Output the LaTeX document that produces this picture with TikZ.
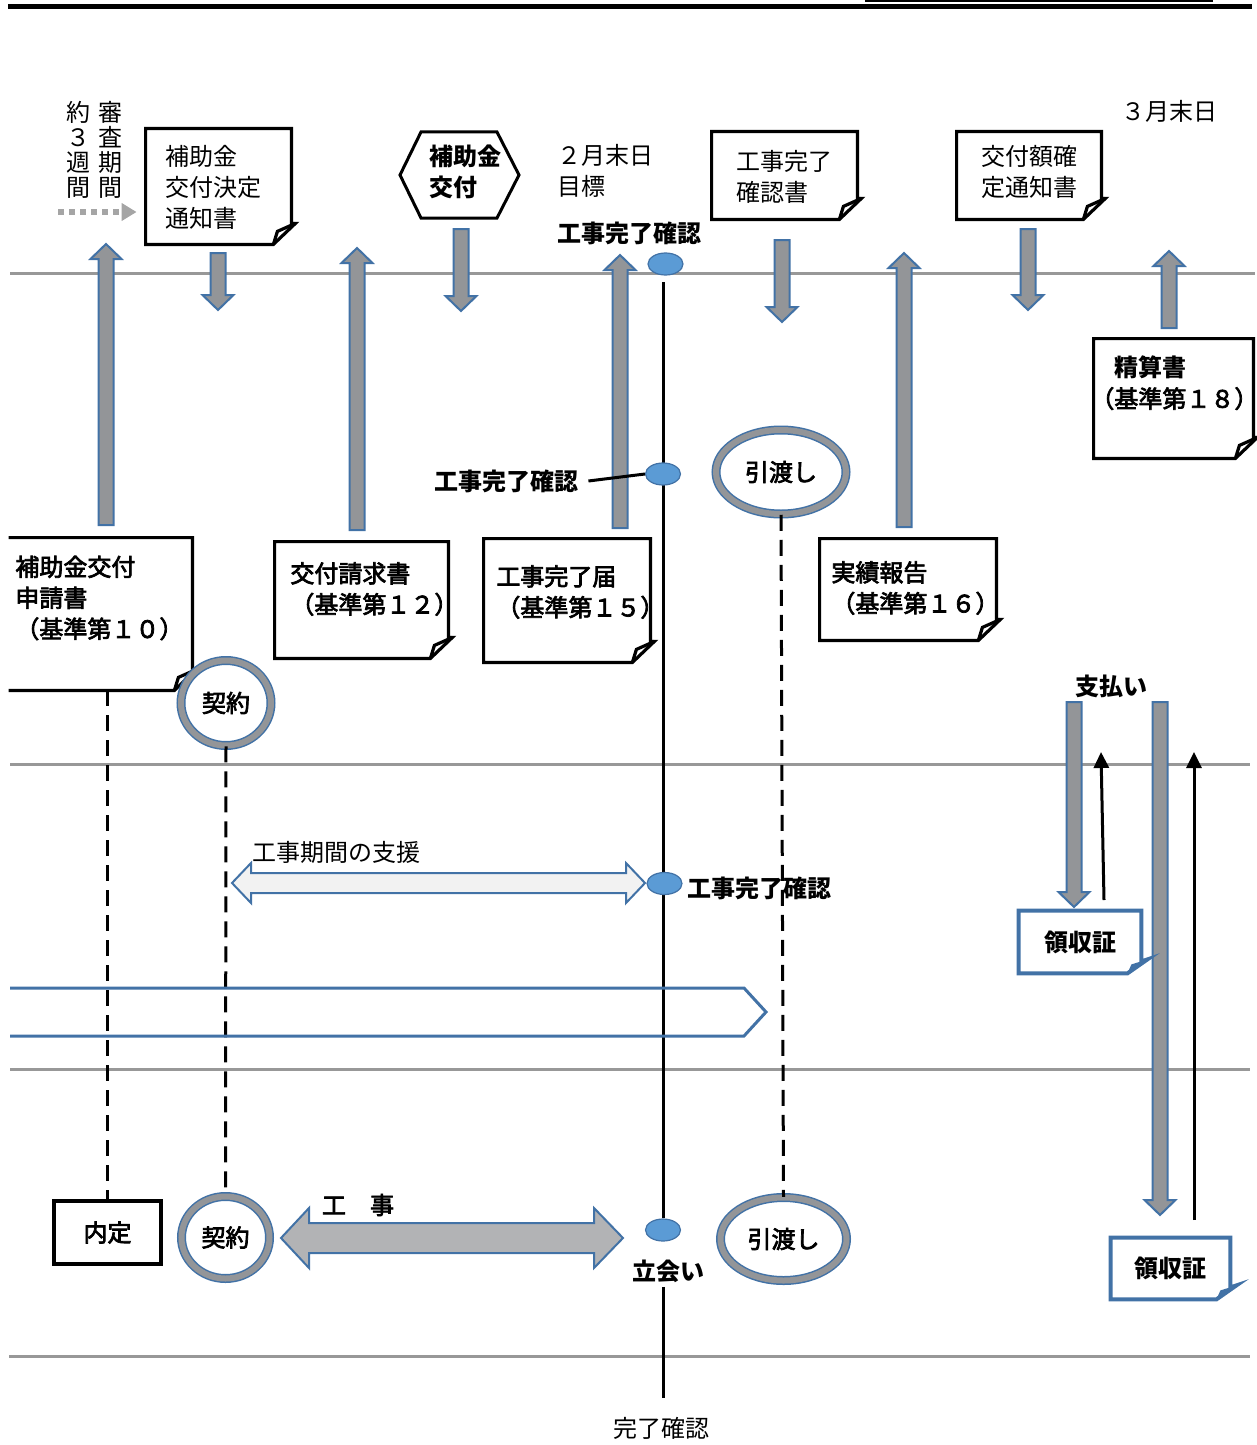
\documentclass[tikz,border=0pt]{standalone}
\usepackage{fontspec}
\setmainfont{Noto Sans CJK JP}
\newfontfamily\medfont{Noto Sans CJK JP}[FakeBold=3]
\usetikzlibrary{shapes.geometric,arrows.meta,calc}

\definecolor{railgray}{RGB}{152,152,152}
\definecolor{shaftgray}{RGB}{147,149,152}
\definecolor{edgeblue}{RGB}{66,114,166}
\definecolor{dotblue}{RGB}{91,155,213}
\definecolor{worksgray}{RGB}{178,179,181}
\definecolor{supportfill}{RGB}{242,242,242}
\definecolor{waitgray}{RGB}{165,165,165}

\tikzset{
  txt/.style={font=\fontsize{12}{15.5}\selectfont, inner sep=0pt, align=left},
  btxt/.style={txt, font=\fontsize{12}{15.5}\selectfont\bfseries},
  mtxt/.style={txt, font=\fontsize{12}{15.5}\selectfont\medfont},
  coltxt/.style={font=\fontsize{12}{12.4}\selectfont, inner sep=0pt, align=center},
  docnote/.style={draw=none, inner sep=0pt},
  docline/.style={draw=black, line width=1.6pt, line join=miter},
  receipt/.style={btxt, inner sep=0pt},
  receiptline/.style={draw=edgeblue, line width=2pt, line join=miter},
  rail/.style={draw=railgray, line width=1.5pt},
  shaft/.style={draw=edgeblue, fill=shaftgray, line width=1pt, line join=miter},
  milestone/.style={ellipse, draw=edgeblue, fill=dotblue, line width=0.6pt, minimum width=17.5pt, minimum height=11pt, inner sep=0pt},
  ring/.style={ellipse, draw=edgeblue, double=shaftgray, double distance=3pt, line width=0.75pt, fill=white, mtxt, inner sep=0pt},
  dashline/.style={draw=black, line width=1.5pt, dash pattern=on 8pt off 4.5pt},
  mainline/.style={draw=black, line width=1.5pt},
  thinarrow/.style={draw=black, line width=1.5pt, -{Triangle[length=8pt,width=7.5pt]}},
  waitarrow/.style={draw=waitgray, line width=3pt, dash pattern=on 3pt off 2.5pt, -{Triangle[length=7.5pt,width=8.5pt]}},
  hexline/.style={draw=black, line width=1.5pt, line join=miter},
  bandline/.style={draw=edgeblue, line width=1.5pt, line join=miter},
}

% block arrow: x, tail y, tip y
\newcommand{\vshaft}[3]{%
  \pgfmathsetmacro{\heady}{#3>#2 ? #3-15 : #3+15}
  \draw[shaft] ({#1-7.5},#2) -- ({#1-7.5},\heady) -- ({#1-15.5},\heady) -- (#1,#3)
    -- ({#1+15.5},\heady) -- ({#1+7.5},\heady) -- ({#1+7.5},#2) -- cycle;
}
% note with a folded corner
\newcommand{\docoutline}[1]{%
  \draw[docline] (#1.north west) -- (#1.north east) -- ($(#1.south east)+(0,-21)$)
    -- ($(#1.south east)+(4,-21)$) -- ($(#1.south east)+(-18,0)$) -- (#1.south west) -- cycle;
  \draw[docline] ($(#1.south east)+(-18,0)$) -- ($(#1.south east)+(-14,-13)$) -- ($(#1.south east)+(4,-21)$);
}
\newcommand{\receiptoutline}[1]{%
  \draw[receiptline] (#1.north west) -- (#1.north east) -- ($(#1.south east)+(0,-12)$)
    -- ($(#1.south east)+(6,-14)$) -- ($(#1.south east)+(-14,0)$) -- (#1.south west) -- cycle;
  \fill[edgeblue] ($(#1.south east)+(-14,0)$) -- ($(#1.south east)+(-10,-9)$) -- ($(#1.south east)+(6,-14)$) -- cycle;
}

\begin{document}
\begin{tikzpicture}[x=0.5pt, y=-0.5pt]
\useasboundingbox (0,0) rectangle (1257,1445);

% frame lines
\draw[line width=2.5pt] (8,7) -- (1252,7);
\draw[line width=1.5pt] (865,0.5) -- (1213,0.5);
\draw[rail] (10,273) -- (1255,273);
\draw[rail] (10,764) -- (1250,764);
\draw[rail] (10,1069) -- (1250,1069);
\draw[rail] (9,1356) -- (1250,1356);

% top row
\node[coltxt] (wait1) at (78,150) {約\\３\\週\\間};
\node[coltxt] (wait2) at (110,150) {審\\査\\期\\間};
\node[docnote, minimum width=72.5pt, minimum height=57.5pt] (decide) at (218.5,186.5) {};
\docoutline{decide}
\node[txt, anchor=west] (decide-t) at (165,187) {補助金\\交付決定\\通知書};
\coordinate (waitStart) at (58,212);
\draw[waitarrow] (waitStart) -- (decide.west |- waitStart) [shorten >=4.5pt];

\draw[hexline] (400,175) -- (421,132) -- (497,132) -- (519,175) -- (497,218) -- (421,218) -- cycle;
\node[btxt, anchor=west] (grant) at (429,172) {補助金\\交付};

\node[txt, anchor=west] (feb) at (557,171) {２月末日\\目標};
\node[btxt] (topcheck) at (629,233) {工事完了確認};

\node[docnote, minimum width=72.5pt, minimum height=43.5pt] (confirm) at (784.5,175.5) {};
\docoutline{confirm}
\node[txt, anchor=west] (confirm-t) at (736,177) {工事完了\\確認書};

\node[docnote, minimum width=72pt, minimum height=43.5pt] (fixed) at (1029,175.5) {};
\docoutline{fixed}
\node[txt, anchor=west] (fixed-t) at (981,172) {交付額確\\定通知書};

\node[txt] (mar) at (1169,111) {３月末日};

\node[docnote, minimum width=79.5pt, minimum height=59.5pt] (settle) at (1173.5,398.5) {};
\docoutline{settle}
\node[btxt, anchor=west] (settle-t) at (1090,383) {　精算書\\{\mdseries\medfont （基準第１８）}};

% arrows across the top rail
\vshaft{106}{525}{244}
\vshaft{357}{530}{248}
\vshaft{620}{528}{255}
\vshaft{904}{527}{253}
\vshaft{1169}{328}{251}
\vshaft{218}{253}{310}
\vshaft{461}{229}{311}
\vshaft{782}{240}{322}
\vshaft{1028}{229}{310}

% application documents
\node[docnote, minimum width=91.5pt, minimum height=76pt] (apply) at (100.5,614) {};
\draw[docline] (apply.north west) -- (apply.north east) -- ($(apply.south east)+(0,-21)$)
  -- ($(apply.south east)+(4,-21)$) -- ($(apply.south east)+(-18,0)$) -- (apply.south west);
\draw[docline] ($(apply.south east)+(-18,0)$) -- ($(apply.south east)+(-14,-13)$) -- ($(apply.south east)+(4,-21)$);
\node[mtxt, anchor=west] (apply-t) at (15,598) {補助金交付\\申請書\\（基準第１０）};

\node[docnote, minimum width=86.5pt, minimum height=58pt] (request) at (361.5,600) {};
\docoutline{request}
\node[mtxt, anchor=west] (request-t) at (290,589) {交付請求書\\（基準第１２）};

\node[docnote, minimum width=83pt, minimum height=61.5pt] (done) at (567,600.5) {};
\docoutline{done}
\node[mtxt, anchor=west] (done-t) at (496,592) {工事完了届\\（基準第１５）};

\node[docnote, minimum width=88pt, minimum height=50.5pt] (report) at (908,589.5) {};
\docoutline{report}
\node[mtxt, anchor=west] (report-t) at (831,588) {実績報告\\（基準第１６）};

% completion line
\coordinate (lineTop) at (663,282);
\coordinate (lineEnd) at (663,1398);
\node[btxt] (tachiai) at (668,1271) {立会い};
\node[milestone] (m4) at (663,1230) {};
\draw[mainline] (lineTop) -- (m4);
\draw[mainline] ([yshift=-2pt]tachiai.south -| lineEnd) -- (lineEnd);
\node[txt] (endcheck) at (661,1428) {完了確認};

\node[milestone] (m1) at (665.5,264) {};
\node[milestone] (m2) at (663,474) {};
\node[milestone] (m3) at (664.5,883.5) {};
\node[btxt] (midcheck) at (506,481) {工事完了確認};
\draw[mainline] ([xshift=5pt]midcheck.east) -- (m2.west);

% handover and contract
\node[ring, minimum width=65pt, minimum height=42pt] (handover1) at (781,472) {引渡し};
\node[ring, minimum width=45pt, minimum height=42.5pt] (contract1) at (226,703) {契約};
\node[ring, minimum width=44pt, minimum height=41pt] (contract2) at (225.5,1237.5) {契約};
\node[ring, minimum width=63pt, minimum height=41.5pt] (handover2) at (783.5,1239) {引渡し};
\node[mtxt, draw, line width=2pt, minimum width=53.5pt, minimum height=31.5pt] (naitei) at (107.5,1232.5) {内定};

\draw[dashline] (naitei.north |- apply.south) -- (naitei.north);
\draw[dashline] (contract1.south) -- (contract2.north);
\draw[dashline] (handover1.south) -- (handover2.north);

% support during works
\node[txt] (support) at (336,852) {工事期間の支援};
\draw[draw=edgeblue, fill=supportfill, line width=1pt] (232,883) -- (251,863) -- (251,873) -- (626,873) -- (626,863)
  -- (645,883) -- (626,903) -- (626,893) -- (251,893) -- (251,903) -- cycle;
\node[btxt, anchor=west] (lowcheck) at (687,888) {工事完了確認};

\draw[bandline] (10,988) -- (744,988) -- (766,1012) -- (744,1036) -- (10,1036);

% works
\node[mtxt] (works) at (358,1205) {工　事};
\draw[draw=edgeblue, fill=worksgray, line width=1pt] (281,1238) -- (309,1208) -- (309,1223) -- (594,1223) -- (594,1208)
  -- (623,1238) -- (594,1268) -- (594,1253) -- (309,1253) -- (309,1268) -- cycle;

% payment
\node[btxt] (pay) at (1111,686) {支払い};
\vshaft{1074}{702}{907}
\vshaft{1160}{702}{1215}
\node[receipt, minimum width=61pt, minimum height=31pt] (receipt1) at (1080,942) {領収証};
\receiptoutline{receipt1}
\node[receipt, minimum width=59.5pt, minimum height=30.5pt] (receipt2) at (1170.5,1268.5) {領収証};
\receiptoutline{receipt2}
\coordinate (r1a) at (1104,900);
\coordinate (r1b) at (1101,752);
\coordinate (r2a) at (1194,1220);
\coordinate (r2b) at (1194,752);
\draw[thinarrow] (r1a) -- (r1b);
\draw[thinarrow] (r2a) -- (r2b);
\end{tikzpicture}
\end{document}
